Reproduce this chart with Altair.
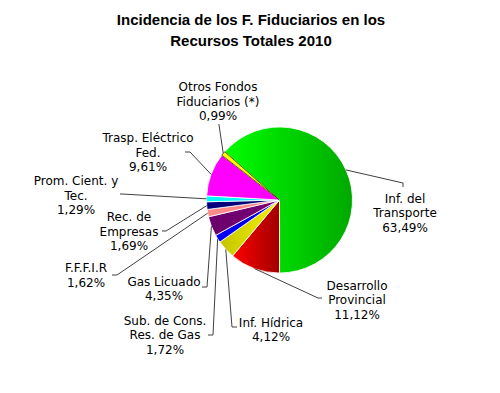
import math
import altair as alt
import pandas as pd

# ---------------- data ----------------
CATEGORIES = [
    "Inf. del Transporte", "Desarrollo Provincial", "Inf. Hídrica",
    "Sub. de Cons. Res. de Gas", "Gas Licuado", "F.F.F.I.R",
    "Rec. de Empresas", "Prom. Cient. y Tec.", "Trasp. Eléctrico Fed.",
    "Otros Fondos Fiduciarios (*)",
]
VALUES = [63.49, 11.12, 4.12, 1.72, 4.35, 1.62, 1.69, 1.29, 9.61, 0.99]
LABEL_LINES = [
    ["Inf. del", "Transporte"], ["Desarrollo", "Provincial"], ["Inf. Hídrica"],
    ["Sub. de Cons.", "Res. de Gas"], ["Gas Licuado"], ["F.F.F.I.R"],
    ["Rec. de", "Empresas"], ["Prom. Cient. y", "Tec."], ["Trasp. Eléctrico", "Fed."],
    ["Otros Fondos", "Fiduciarios (*)"],
]
TITLE_LINES = ["Incidencia de los F. Fiduciarios en los", "Recursos Totales 2010"]

# ---------------- styles / layout ----------------
SLICE_FILL = [
    ("#00ff00", "#00a800"), ("#ff0000", "#a00000"), ("#c4c400", "#f4f400"),
    ("#0000ff", "#0000d0"), ("#6a006a", "#7a007a"), ("#ff8c8c", "#ff8080"),
    ("#000080", "#000070"), ("#00ffff", "#00f0f0"), ("#ff00ff", "#ff00ff"),
    ("#ffff00", "#f0f000"),
]
SLICE_STROKE = ["white"] * 9 + ["#333300"]

OFF = 8  # page margin
CX, CY, R = 279.5 - OFF, 200 - OFF, 73
FIRST_ANGLE = math.radians(311.4)

# label first-line centre, leader start, leader elbow (page coordinates)
LABEL_POS = [(405, 198.5), (357, 285.5), (271, 322.5), (165, 320.5), (164, 281.5),
             (86, 268), (129, 217), (76, 181), (148, 138), (218, 87)]
LEAD_START = [(403, 187), (322, 298), (237, 327), (208, 335), (202, 287),
              (112, 275), (162, 231), (120, 194), (185, 152), (219, 124)]
LEAD_ELBOW = [(403, 183), (318, 298), (232, 327), (213, 335), (207, 287),
              (117, 275), (166, 231), (122, 194), (190, 152), (219, 125)]

def pct(v):
    return f"{v:.2f}".replace(".", ",") + "%"

df = pd.DataFrame({
    "category": CATEGORIES,
    "value": VALUES,
    "order": list(range(len(CATEGORIES))),
    "label": ["\n".join(lines + [pct(v)]) for lines, v in zip(LABEL_LINES, VALUES)],
    "lx": [p[0] - OFF for p in LABEL_POS],
    "ly": [p[1] - OFF for p in LABEL_POS],
    "sx": [p[0] - OFF for p in LEAD_START],
    "sy": [p[1] - OFF for p in LEAD_START],
    "ex": [p[0] - OFF for p in LEAD_ELBOW],
    "ey": [p[1] - OFF for p in LEAD_ELBOW],
})

total = sum(VALUES)
theta_scale = alt.Scale(domain=[0, total], range=[FIRST_ANGLE, FIRST_ANGLE + 2 * math.pi])

base = (
    alt.Chart(df)
    .transform_window(cum="sum(value)", sort=[alt.SortField("order")], frame=[None, 0])
    .transform_joinaggregate(total="sum(value)")
    .transform_calculate(
        start="datum.cum - datum.value",
        mid=f"{FIRST_ANGLE} + 2*PI*(datum.cum - datum.value/2)/datum.total",
    )
    .transform_calculate(
        px=f"{CX} + {R}*sin(datum.mid)",
        py=f"{CY} - {R}*cos(datum.mid)",
    )
)

layers = []
for i, cat in enumerate(CATEGORIES):
    light, dark = SLICE_FILL[i]
    grad = alt.LinearGradient(
        gradient="linear",
        stops=[alt.GradientStop(color=light, offset=0), alt.GradientStop(color=dark, offset=1)],
        x1=0, x2=1, y1=0, y2=0,
    )
    layers.append(
        base.transform_filter(alt.datum.category == cat)
        .mark_arc(fill=grad, stroke=SLICE_STROKE[i], strokeWidth=0.8, radius=R)
        .encode(
            theta=alt.Theta("start:Q", stack=None, scale=theta_scale),
            theta2="cum:Q",
            x=alt.value(CX),
            y=alt.value(CY),
        )
    )

lead1 = base.mark_rule(color="#404040", strokeWidth=1).encode(
    x=alt.X("sx:Q", scale=None, axis=None), y=alt.Y("sy:Q", scale=None, axis=None),
    x2="ex:Q", y2="ey:Q",
)
lead2 = base.mark_rule(color="#404040", strokeWidth=1).encode(
    x=alt.X("ex:Q", scale=None, axis=None), y=alt.Y("ey:Q", scale=None, axis=None),
    x2="px:Q", y2="py:Q",
)
labels = base.mark_text(
    font="DejaVu Sans", fontSize=12, lineBreak="\n", lineHeight=14.5,
    align="center", baseline="middle", color="black",
).encode(
    x=alt.X("lx:Q", scale=None, axis=None), y=alt.Y("ly:Q", scale=None, axis=None),
    text="label:N",
)

title_df = pd.DataFrame({"t": TITLE_LINES, "tx": [251 - OFF] * 2, "ty": [19.5 - OFF, 40.5 - OFF]})
title = alt.Chart(title_df).mark_text(
    font="Liberation Sans", fontSize=15, fontWeight="bold", align="center",
    baseline="middle", color="black",
).encode(
    x=alt.X("tx:Q", scale=None, axis=None), y=alt.Y("ty:Q", scale=None, axis=None),
    text="t:N",
)

chart = (
    alt.layer(*layers, lead1, lead2, labels, title)
    .properties(width=484, height=377, autosize=alt.AutoSizeParams(type="none"), padding=0)
    .configure_view(stroke=None)
)

chart.save("out.html", embed_options={"renderer": "svg", "actions": False})
